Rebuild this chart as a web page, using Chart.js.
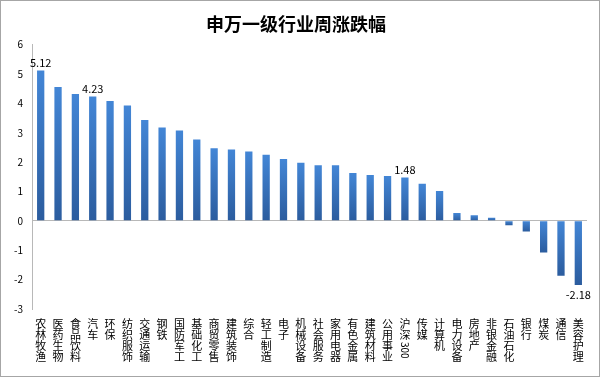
<!DOCTYPE html>
<html>
<head>
<meta charset="utf-8">
<script src="https://cdn.jsdelivr.net/npm/chart.js@4"></script>
<style>
  html, body { margin: 0; padding: 0; background: #fff; }
  .box { width: 600px; height: 377px; box-sizing: border-box; border: 1px solid #a6a6a6; position: relative; }
  canvas { position: absolute; left: 0; top: 0; }
</style>
</head>
<body>
<div class="box"><canvas id="weekChart" width="598" height="375"></canvas></div>
<script>
// industries, sorted by weekly change (%)
const industries = ['农林牧渔', '医药生物', '食品饮料', '汽车', '环保', '纺织服饰', '交通运输', '钢铁',
  '国防军工', '基础化工', '商贸零售', '建筑装饰', '综合', '轻工制造', '电子', '机械设备',
  '社会服务', '家用电器', '有色金属', '建筑材料', '公用事业', '沪深300', '传媒', '计算机',
  '电力设备', '房地产', '非银金融', '石油石化', '银行', '煤炭', '通信', '美容护理'];
const weekChange = [5.12, 4.56, 4.32, 4.23, 4.08, 3.93, 3.43, 3.18,
  3.08, 2.77, 2.47, 2.43, 2.36, 2.25, 2.11, 1.98,
  1.89, 1.89, 1.63, 1.56, 1.53, 1.48, 1.26, 1.02,
  0.27, 0.19, 0.11, -0.15, -0.36, -1.08, -1.87, -2.18];
const labelled = ['农林牧渔', '汽车', '沪深300', '美容护理'];
const yTicks = [-3, -2, -1, 0, 1, 2, 3, 4, 5, 6];

const fontCn = '"Noto Sans CJK SC", "Noto Sans", sans-serif';

// bar fill: lighter at the top, darker near the bottom of each bar
function barFill(c) {
  const chart = c.chart;
  if (!chart.chartArea || c.raw === undefined) return '#3a78c6';
  const y = chart.scales.y;
  const v = c.raw;
  const top = y.getPixelForValue(Math.max(v, 0));
  const bot = y.getPixelForValue(Math.min(v, 0));
  if (bot - top < 1) return '#3a78c6';
  const g = chart.ctx.createLinearGradient(0, top, 0, bot);
  g.addColorStop(0, '#4386d6');
  g.addColorStop(1, '#2b5c9e');
  return g;
}

// category names written top to bottom, digits turned sideways like excel does
const verticalLabels = {
  id: 'verticalLabels',
  afterDraw(chart) {
    const ctx = chart.ctx;
    const xs = chart.scales.x;
    const startY = chart.chartArea.bottom + 10;
    const step = 11;
    ctx.save();
    ctx.fillStyle = '#000';
    ctx.textBaseline = 'top';
    industries.forEach((name, i) => {
      const x = xs.getPixelForValue(i);
      let y = startY;
      const parts = name.match(/[0-9]+|./g);
      parts.forEach(p => {
        if (/^[0-9]+$/.test(p)) {
          ctx.font = '10px ' + fontCn;
          const w = ctx.measureText(p).width;
          ctx.save();
          ctx.translate(x, y + 1);
          ctx.rotate(Math.PI / 2);
          ctx.textAlign = 'left';
          ctx.textBaseline = 'middle';
          ctx.fillText(p, 0, 0);
          ctx.restore();
          y += w + 2;
        } else {
          ctx.font = '11px ' + fontCn;
          ctx.textAlign = 'center';
          ctx.fillText(p, x, y - 1);
          y += step;
        }
      });
    });
    ctx.restore();
  }
};

const valueLabels = {
  id: 'valueLabels',
  afterDatasetsDraw(chart) {
    const ctx = chart.ctx;
    const meta = chart.getDatasetMeta(0);
    ctx.save();
    ctx.font = '11px ' + fontCn;
    ctx.fillStyle = '#000';
    ctx.textAlign = 'center';
    industries.forEach((name, i) => {
      if (!labelled.includes(name)) return;
      const bar = meta.data[i];
      const v = weekChange[i];
      if (v >= 0) {
        ctx.textBaseline = 'bottom';
        ctx.fillText(v.toFixed(2), bar.x, bar.y - 2);
      } else {
        ctx.textBaseline = 'top';
        ctx.fillText(v.toFixed(2), bar.x, bar.y + 4);
      }
    });
    ctx.restore();
  }
};

const ctx = document.getElementById('weekChart').getContext('2d');
const weekChart = new Chart(ctx, {
  type: 'bar',
  data: {
    labels: industries,
    datasets: [{
      data: weekChange,
      backgroundColor: barFill,
      barPercentage: 0.42,
      categoryPercentage: 1.0
    }]
  },
  options: {
    responsive: false,
    animation: false,
    layout: { padding: { left: 4, right: 12, top: 8, bottom: 67 } },
    plugins: {
      legend: { display: false },
      tooltip: { enabled: false },
      title: {
        display: true,
        text: '申万一级行业周涨跌幅',
        color: '#000',
        font: { family: fontCn, size: 18, weight: 'bold' },
        padding: { top: 4, bottom: 10 }
      }
    },
    scales: {
      x: {
        offset: true,
        grid: { display: false, drawTicks: false },
        border: { display: false },
        ticks: { display: false }
      },
      y: {
        min: -3,
        max: 6,
        afterBuildTicks: (axis) => { axis.ticks = yTicks.map(v => ({ value: v })); },
        grid: {
          drawTicks: false,
          color: (c) => c.tick && c.tick.value === 0 ? '#b8b8b8' : 'rgba(0,0,0,0)',
          lineWidth: 1
        },
        border: { display: true, color: '#b8b8b8' },
        ticks: {
          padding: 9,
          color: '#000',
          font: { family: fontCn, size: 10 }
        }
      }
    }
  },
  plugins: [valueLabels, verticalLabels]
});
</script>
</body>
</html>
